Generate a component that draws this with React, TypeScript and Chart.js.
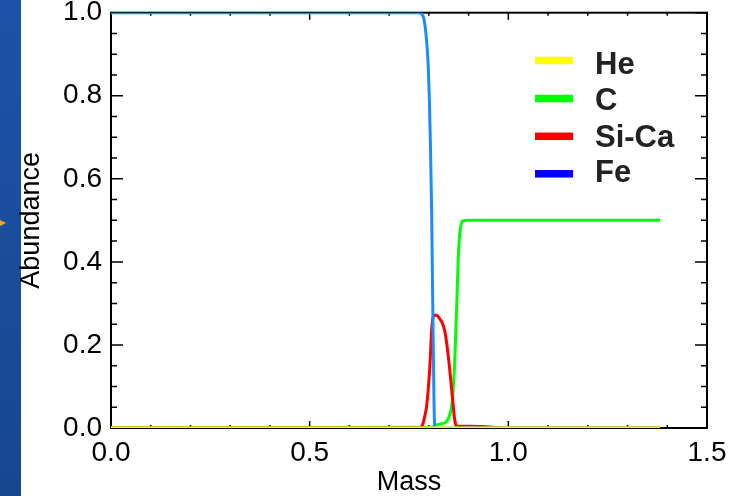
import React, { useEffect, useRef } from 'react';
import { Chart, registerables } from 'chart.js';

Chart.register(...registerables);

// ---- data ----
const heMass = [0, 1.382];
const heAbund = [0, 0];

const cMass = [0, 0.81, 0.815, 0.83, 0.845, 0.852, 0.857, 0.861, 0.865, 0.868, 0.871, 0.874, 0.877, 0.881, 0.886, 0.9, 1.382];
const cAbund = [0, 0.002, 0.006, 0.01, 0.016, 0.03, 0.05, 0.09, 0.16, 0.24, 0.32, 0.41, 0.46, 0.49, 0.499, 0.5, 0.5];

const siMass = [0, 0.778, 0.785, 0.79, 0.794, 0.799, 0.803, 0.807, 0.811, 0.815, 0.822, 0.828, 0.835, 0.841, 0.849, 0.855, 0.86, 0.864, 0.868, 0.872, 0.9, 0.96, 0.98, 1.382];
const siAbund = [0, 0, 0.01, 0.03, 0.05, 0.1, 0.157, 0.236, 0.268, 0.272, 0.27, 0.262, 0.25, 0.229, 0.172, 0.116, 0.067, 0.027, 0.007, 0.004, 0.004, 0.002, 0, 0];

const feMass = [0, 0.775, 0.782, 0.788, 0.794, 0.798, 0.801, 0.804, 0.807, 0.809, 0.811, 0.813, 0.815, 1.382];
const feAbund = [1, 1, 0.997, 0.983, 0.935, 0.88, 0.8, 0.68, 0.52, 0.36, 0.2, 0.06, 0, 0];

const xTickLabels = ['0.0', '0.5', '1.0', '1.5'];
const yTickLabels = ['0.0', '0.2', '0.4', '0.6', '0.8', '1.0'];
const legendLabels = ['He', 'C', 'Si-Ca', 'Fe'];
const legendColors = ['#ffff00', '#00ff00', '#ff0000', '#0000ff'];

const FONT = "'Liberation Sans', Arial, Helvetica, sans-serif";

const toPoints = (xs: number[], ys: number[]) => xs.map((x, i) => ({ x, y: ys[i] }));

const idlAxes = {
  id: 'idlAxes',
  beforeDatasetsDraw(chart: any) {
    const { ctx, chartArea: a, scales } = chart;
    const xs = scales.x;
    const ys = scales.y;
    ctx.save();
    ctx.strokeStyle = '#000';
    ctx.lineWidth = 1.5;
    ctx.beginPath();
    for (let i = 0; i <= 20; i++) {
      const py = ys.getPixelForValue(i * 0.05);
      const len = i % 4 === 0 ? 12 : 6;
      ctx.moveTo(a.left, py);
      ctx.lineTo(a.left + len, py);
      ctx.moveTo(a.right, py);
      ctx.lineTo(a.right - len, py);
    }
    for (let i = 0; i <= 15; i++) {
      const px = xs.getPixelForValue(i * 0.1);
      const len = i % 5 === 0 ? 7 : 3;
      ctx.moveTo(px, a.bottom);
      ctx.lineTo(px, a.bottom - len);
      ctx.moveTo(px, a.top);
      ctx.lineTo(px, a.top + len);
    }
    ctx.stroke();
    ctx.lineWidth = 2;
    ctx.strokeRect(a.left, a.top, a.right - a.left, a.bottom - a.top);
    ctx.restore();
  },
};

const idlLegend = {
  id: 'idlLegend',
  afterDatasetsDraw(chart: any) {
    const { ctx } = chart;
    const lineY = [60.5, 98.5, 136.3, 173.8];
    const textY = [65, 101.7, 138.3, 173.8];
    ctx.save();
    ctx.font = `bold 31px ${FONT}`;
    ctx.textBaseline = 'middle';
    ctx.textAlign = 'left';
    legendLabels.forEach((lab, i) => {
      ctx.fillStyle = legendColors[i];
      ctx.fillRect(535, lineY[i] - 3.75, 38, 7.5);
      ctx.fillStyle = '#222';
      ctx.fillText(lab, 595, textY[i]);
    });
    ctx.restore();
  },
};

export default function App() {
  const ref = useRef<HTMLCanvasElement | null>(null);

  useEffect(() => {
    if (!ref.current) return;
    const common = { borderWidth: 3, pointRadius: 0, fill: false, cubicInterpolationMode: 'monotone' as const };
    const chart = new Chart(ref.current, {
      type: 'line',
      data: {
        datasets: [
          { label: 'He', data: toPoints(heMass, heAbund), borderColor: '#ffff00', ...common },
          { label: 'Fe', data: toPoints(feMass, feAbund), borderColor: '#1a8cff', ...common },
          { label: 'Si-Ca', data: toPoints(siMass, siAbund), borderColor: '#ff0000', ...common },
          { label: 'C', data: toPoints(cMass, cAbund), borderColor: '#00ff00', ...common },
        ],
      },
      options: {
        animation: false,
        responsive: false,
        layout: { padding: { left: 0, right: 33, top: 12.7, bottom: 0 } },
        plugins: { legend: { display: false }, tooltip: { enabled: false } },
        scales: {
          x: {
            type: 'linear',
            min: 0,
            max: 1.5,
            grid: { display: false, drawTicks: false },
            border: { display: false },
            ticks: {
              stepSize: 0.5,
              padding: 13,
              color: '#000',
              font: { family: FONT, size: 28, lineHeight: 0.9 },
              maxRotation: 0,
              callback: (_v: any, i: number) => xTickLabels[i],
            },
            title: {
              display: true,
              text: 'Mass',
              color: '#000',
              font: { family: FONT, size: 27, lineHeight: 1 },
              padding: { top: 0, bottom: 0 },
            },
            afterFit: (s: any) => { s.height = 68; s.paddingLeft = 0; s.paddingRight = 0; },
          },
          y: {
            type: 'linear',
            min: 0,
            max: 1,
            grid: { display: false, drawTicks: false },
            border: { display: false },
            ticks: {
              stepSize: 0.2,
              padding: 9,
              color: '#000',
              font: { family: FONT, size: 28, lineHeight: 0.9 },
              callback: (_v: any, i: number) => yTickLabels[i],
            },
            title: {
              display: true,
              text: 'Abundance',
              color: '#000',
              font: { family: FONT, size: 27, lineHeight: 1 },
              padding: { top: 18, bottom: 0 },
            },
            afterFit: (s: any) => { s.width = 111; s.paddingTop = 0; s.paddingBottom = 0; },
          },
        },
      },
      plugins: [idlAxes, idlLegend],
    } as any);
    return () => chart.destroy();
  }, []);

  return (
    <div style={{ position: 'absolute', left: 0, top: 0, width: 740, height: 496, background: '#fff', overflow: 'hidden' }}>
      <div style={{ position: 'absolute', left: 0, top: 0, width: 21, height: 496, background: 'linear-gradient(#1d52a8, #17478f)' }} />
      <div style={{ position: 'absolute', left: 0, top: 220, width: 6, height: 6, background: '#f2a52a', clipPath: 'polygon(0 0, 100% 50%, 0 100%)' }} />
      <canvas ref={ref} width={740} height={496} style={{ position: 'absolute', left: 0, top: 0, width: 740, height: 496 }} />
    </div>
  );
}
